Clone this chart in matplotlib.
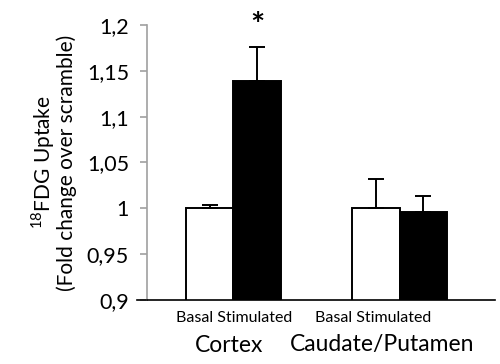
import numpy as np
import matplotlib.pyplot as plt

plt.rcParams['font.family'] = ['Lato', 'DejaVu Sans']
plt.rcParams['mathtext.fontset'] = 'custom'
plt.rcParams['mathtext.rm'] = 'Lato'

# data
regions = ['Cortex', 'Caudate/Putamen']
conditions = ['Basal', 'Stimulated']
basal = [1.0, 1.0]
basal_err = [0.004, 0.032]
stimulated = [1.139, 0.996]
stimulated_err = [0.037, 0.017]
yticks = [0.9, 0.95, 1.0, 1.05, 1.1, 1.15, 1.2]
ytick_labels = ['0,9', '0,95', '1', '1,05', '1,1', '1,15', '1,2']

fig = plt.figure(figsize=(5, 3.64), dpi=100)
ax = fig.add_axes([147 / 500, 64 / 364, 348 / 500, 275 / 364])

group = np.arange(len(regions)) * 3.5
w = 1.0
ekw = dict(ecolor='black', elinewidth=1.4, capsize=5.5, capthick=1.4)
ax.bar(group - w / 2, basal, w, color='white', edgecolor='black', linewidth=1.4,
       yerr=[np.zeros(2), basal_err], error_kw=ekw)
ax.bar(group + w / 2, stimulated, w, color='black', edgecolor='black', linewidth=1.4,
       yerr=[np.zeros(2), stimulated_err], error_kw=ekw)

ax.text(group[0] + w / 2, 1.198, '*', ha='center', va='center', fontsize=24,
        fontweight='bold', clip_on=False)

xmin, xmax = -1.817, 5.51
ax.set_ylim(0.9, 1.2)
ax.set_xlim(xmin, xmax)
ax.plot([xmin - 0.21, xmin], [0.9, 0.9], color='black', lw=1.2, clip_on=False)
ax.set_yticks(yticks)
ax.set_yticklabels(ytick_labels, fontsize=15.5)
ax.set_xticks([])
ax.tick_params(axis='y', length=5, color='#a0a0a0', width=1.2, pad=8)
for s in ['top', 'right']:
    ax.spines[s].set_visible(False)
ax.spines['left'].set_color('#a0a0a0')
ax.spines['left'].set_linewidth(1.2)
ax.spines['bottom'].set_color('black')
ax.spines['bottom'].set_linewidth(1.2)

ax.set_ylabel('$^{18}$FDG Uptake\n(Fold change over scramble)', fontsize=15, labelpad=7,
              linespacing=0.95)

sub_x = [234, 373]
main_x = [229, 382]
for i, name in enumerate(regions):
    fig.text(sub_x[i] / 500, 1 - 318 / 364, ' '.join(conditions), ha='center', va='center', fontsize=11.5)
    fig.text(main_x[i] / 500, 1 - 345 / 364, name, ha='center', va='center', fontsize=16.5)

fig.savefig('out.png', dpi=100)
